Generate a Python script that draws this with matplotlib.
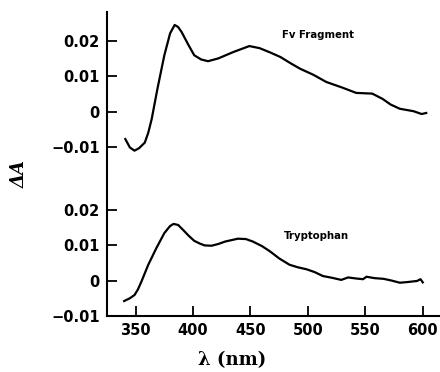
import matplotlib.pyplot as plt

# Fv fragment difference spectrum
fv_nm = [341, 345, 349, 353, 358, 361, 364, 369, 375, 380, 384, 387, 390, 396, 401,
         407, 413, 422, 435, 449, 458, 467, 476, 485, 493, 505, 516, 530, 542, 556,
         565, 572, 580, 592, 599, 603]
fv_dA = [-0.0078, -0.0102, -0.0111, -0.0104, -0.0088, -0.0060, -0.0021, 0.0065, 0.0160,
         0.0222, 0.0246, 0.0240, 0.0226, 0.0189, 0.0160, 0.0148, 0.0143, 0.0151, 0.0169,
         0.0186, 0.0180, 0.0168, 0.0155, 0.0137, 0.0122, 0.0104, 0.0084, 0.0068, 0.0053,
         0.0051, 0.0036, 0.0020, 0.0008, 0.0001, -0.0007, -0.0004]

# Tryptophan difference spectrum
trp_nm = [340, 345, 349, 352, 355, 361, 368, 375, 380, 383, 387, 391, 396, 401, 406,
          410, 416, 422, 428, 439, 446, 452, 460, 467, 475, 484, 491, 499, 506, 513,
          521, 529, 535, 542, 548, 551, 558, 566, 573, 580, 587, 595, 598, 600]
trp_dA = [-0.0058, -0.0050, -0.0041, -0.0025, -0.0003, 0.0045, 0.0092, 0.0135, 0.0155,
          0.0161, 0.0158, 0.0145, 0.0128, 0.0113, 0.0105, 0.0100, 0.0099, 0.0104, 0.0111,
          0.0119, 0.0118, 0.0111, 0.0098, 0.0083, 0.0063, 0.0045, 0.0038, 0.0032, 0.0024,
          0.0013, 0.0008, 0.0002, 0.0009, 0.0006, 0.0004, 0.0011, 0.0007, 0.0005, 0.0,
          -0.0006, -0.0004, -0.0001, 0.0004, -0.0005]

offset = 0.048  # upper trace shifted up
xticks = [350, 400, 450, 500, 550, 600]
ytick_vals = [-0.01, 0, 0.01, 0.02]
ytick_labels = ['\u22120.01', '0', '0.01', '0.02']

fig = plt.figure(figsize=(4.4, 3.72), dpi=100)
ax = fig.add_axes([0.243, 0.151, 0.757, 0.817])

ax.plot(fv_nm, [v + offset for v in fv_dA], color='black', lw=1.6,
        solid_joinstyle='round')
ax.plot(trp_nm, trp_dA, color='black', lw=1.6, solid_joinstyle='round')

ax.set_xlim(325, 615)
ax.set_ylim(-0.01, 0.0763)

ax.set_xticks(xticks)
ax.set_yticks(ytick_vals + [v + offset for v in ytick_vals])
ax.set_yticklabels(ytick_labels + ytick_labels)

for s in ['top', 'right']:
    ax.spines[s].set_visible(False)
for s in ['left', 'bottom']:
    ax.spines[s].set_linewidth(1.5)

ax.tick_params(direction='in', length=7, width=1.3, pad=5, labelsize=10.5)
for lab in ax.get_xticklabels() + ax.get_yticklabels():
    lab.set_fontweight('bold')

ax.text(509, 0.0217 + offset, 'Fv Fragment', fontsize=7.3, fontweight='bold',
        ha='center', va='center')
ax.text(507, 0.0126, 'Tryptophan', fontsize=7.3, fontweight='bold',
        ha='center', va='center')

fig.text(0.045, 0.532, '\u0394A', rotation=90, fontsize=13, fontweight='bold',
         family='DejaVu Serif', style='italic', ha='center', va='center')
fig.text(0.527, 0.032, '\u03bb (nm)', fontsize=13, fontweight='bold',
         family='DejaVu Serif', ha='center', va='center')

fig.savefig('out.png', dpi=100)
